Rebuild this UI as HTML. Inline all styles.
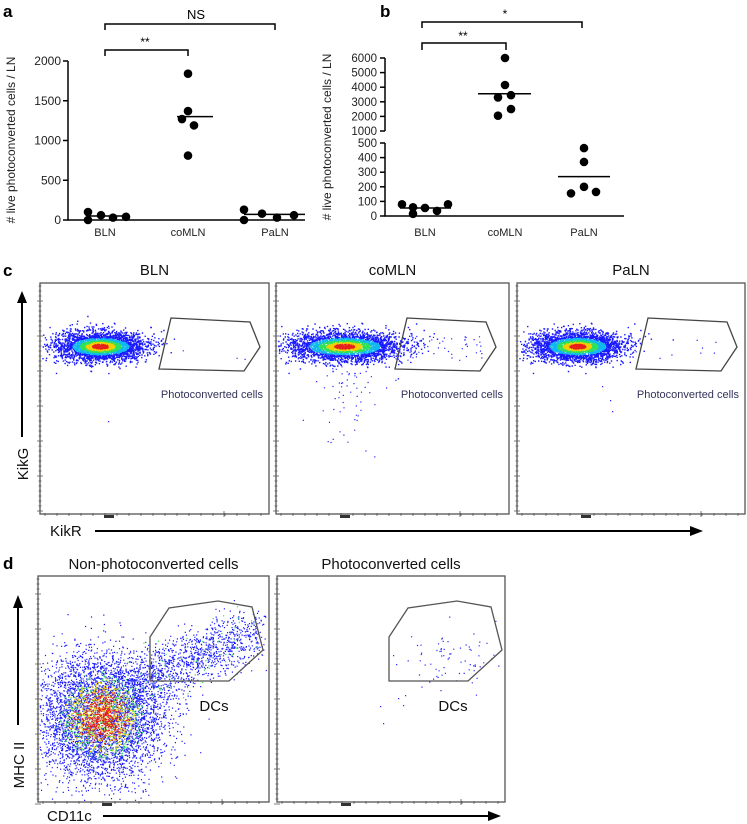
<!DOCTYPE html>
<html><head><meta charset="utf-8">
<style>
html,body{margin:0;padding:0;background:#fff;}
svg{display:block;font-family:"Liberation Sans",sans-serif;}
</style></head>
<body>
<svg id="fig" width="747" height="824" viewBox="0 0 747 824">
<g id="pa"></g>
<g id="pb"></g>
<g id="pc"></g>
<g id="pd"></g>
</svg>
<script>
// ---- Panel a data ----
const aCategories = ["BLN","coMLN","PaLN"];
const aBLN = [100,0,60,30,40];
const aCoMLN = [1840,1370,1270,1190,810];
const aPaLN = [130,0,80,30,60];
const aMeans = [50,1300,70];
const aTicks = [0,500,1000,1500,2000];
// ---- Panel b data ----
const bCategories = ["BLN","coMLN","PaLN"];
const bBLN = [80,15,60,55,35,80];
const bCoMLN = [6000,4150,3300,3450,2500,2050];
const bPaLN = [465,370,200,155,165];
const bMeans = [55,3550,270];
const bTicksUpper = [1000,2000,3000,4000,5000,6000];
const bTicksLower = [0,100,200,300,400,500];

const NS="http://www.w3.org/2000/svg";
function mk(parent,tag,attrs,text){const e=document.createElementNS(NS,tag);for(const k in attrs)e.setAttribute(k,attrs[k]);if(text!==undefined)e.textContent=text;parent.appendChild(e);return e;}

// ===== Panel a =====
(function(){
const g=document.getElementById('pa');
const y=v=>220-(v/2000)*159;
const xc=[105,188,275];
const t=mk(g,'text',{x:3,y:17,'font-size':17,'font-weight':'bold'},'a');

let ax=mk(g,'path',{d:'M68,61 V220 H305',stroke:'#000','stroke-width':1.5,fill:'none'});

aTicks.forEach(v=>{
  const tk=mk(g,'line',{x1:63,x2:68,y1:y(v),y2:y(v),stroke:'#000','stroke-width':1.5});
  
  const tl=mk(g,'text',{x:61,y:y(v)+4,'font-size':12,'text-anchor':'end',fill:'#222'},v);
  
});
aCategories.forEach((c,i)=>{
  const tl=mk(g,'text',{x:xc[i],y:236,'font-size':11,'text-anchor':'middle',fill:'#222'},c);
  
});
const yt=mk(g,'text',{x:0,y:0,'font-size':12,'text-anchor':'middle',fill:'#222',transform:'translate(15,140) rotate(-90)'},'# live photoconverted cells / LN');

const series=[aBLN,aCoMLN,aPaLN];
const offs=[[-17,-17,-4,8,21],[0,0,-6,6,0],[-31,-31,-13,2,19]];
series.forEach((s,i)=>{
  s.forEach((v,j)=>{
    const d=mk(g,'circle',{cx:xc[i]+offs[i][j],cy:y(v),r:4.3,fill:'#000'});
    
  });
});
const mw=[[88,126],[177,213],[244,305]];
aMeans.forEach((m,i)=>{
  const l=mk(g,'line',{x1:mw[i][0],x2:mw[i][1],y1:y(m),y2:y(m),stroke:'#000','stroke-width':1.5});
  
});
let b1=mk(g,'path',{d:'M105,30 V24 H275 V30',stroke:'#000','stroke-width':1.5,fill:'none'});

let s1=mk(g,'text',{x:196,y:19,'font-size':13,'text-anchor':'middle'},'NS');

let b2=mk(g,'path',{d:'M105,56 V50 H188 V56',stroke:'#000','stroke-width':1.5,fill:'none'});

let s2=mk(g,'text',{x:145,y:46,'font-size':12,'text-anchor':'middle'},'**');

})();

// ===== Panel b =====
(function(){
const g=document.getElementById('pb');
const y=v=> v<=500 ? 216-(v/500)*73 : 131-((v-1000)/5000)*73;
const xc=[425,505,584];
const t=mk(g,'text',{x:380,y:17,'font-size':17,'font-weight':'bold'},'b');

let ax=mk(g,'path',{d:'M385,58 V131 M385,143 V216 H624',stroke:'#000','stroke-width':1.5,fill:'none'});

bTicksUpper.concat(bTicksLower).forEach(v=>{
  const tk=mk(g,'line',{x1:380,x2:385,y1:y(v),y2:y(v),stroke:'#000','stroke-width':1.5});
  
  const tl=mk(g,'text',{x:377,y:y(v)+4,'font-size':11.5,'text-anchor':'end',fill:'#222'},v);
  
});
bCategories.forEach((c,i)=>{
  const tl=mk(g,'text',{x:xc[i],y:236,'font-size':11,'text-anchor':'middle',fill:'#222'},c);
  
});
const yt=mk(g,'text',{x:0,y:0,'font-size':12,'text-anchor':'middle',fill:'#222',transform:'translate(331,137) rotate(-90)'},'# live photoconverted cells / LN');

const series=[bBLN,bCoMLN,bPaLN];
const offs=[[-23,-12,-12,0,12,23],[0,0,-7,6,6,-7],[0,0,0,-13,12]];
series.forEach((s,i)=>{
  s.forEach((v,j)=>{
    const d=mk(g,'circle',{cx:xc[i]+offs[i][j],cy:y(v),r:4.3,fill:'#000'});
    
  });
});
const mw=[[400,451],[478,531],[558,610]];
bMeans.forEach((m,i)=>{
  const l=mk(g,'line',{x1:mw[i][0],x2:mw[i][1],y1:y(m),y2:y(m),stroke:'#000','stroke-width':1.5});
  
});
let b1=mk(g,'path',{d:'M422,28 V22 H582 V28',stroke:'#000','stroke-width':1.5,fill:'none'});

let s1=mk(g,'text',{x:505,y:18,'font-size':12,'text-anchor':'middle'},'*');

let b2=mk(g,'path',{d:'M422,50 V43 H506 V50',stroke:'#000','stroke-width':1.5,fill:'none'});

let s2=mk(g,'text',{x:463,y:40,'font-size':12,'text-anchor':'middle'},'**');

})();

// deterministic pseudo-random for flow cytometry density texture
let seed=12345;
function rnd(){seed=(seed*1103515245+12345)%2147483648;return seed/2147483648;}
function gauss(){let u=rnd()||1e-6,v=rnd();return Math.sqrt(-2*Math.log(u))*Math.cos(2*Math.PI*v);}
function colorFor(d){ if(d<0.25)return '#e8201a'; if(d<0.45)return '#f5e000'; if(d<0.62)return '#2ee05a'; if(d<0.8)return '#10b8f0'; return '#1a1aff';}

function frame(g,x0,y0,w,h,name){
  const r=mk(g,'rect',{x:x0,y:y0,width:w,height:h,fill:'none',stroke:'#555','stroke-width':1.3});
  
  let p='';
  for(let k=0;k<=6;k++){const yy=y0+18+k*35;p+=`M${x0-3},${yy}H${x0+3}`;}
  for(let yy=y0+3;yy<y0+h;yy+=5)p+=`M${x0-1.5},${yy}H${x0+1.5}`;
  for(let xx=x0+5;xx<x0+w;xx+=12)p+=`M${xx},${y0+h-1}V${y0+h+2}`;
  p+=`M${x0+184},${y0+h-3}V${y0+h+3}`;
  const tk=mk(g,'path',{d:p,stroke:'#555','stroke-width':0.8,fill:'none'});
  
  const m=mk(g,'rect',{x:x0+64,y:y0+h+1,width:10,height:3,fill:'#333'});
  
}

// ===== Panel c =====
(function(){
const g=document.getElementById('pc');
const t=mk(g,'text',{x:3,y:276,'font-size':17,'font-weight':'bold'},'c');

const frames=[[40,229,'BLN',110,62,0.4,3],[276,233,'coMLN',118,78,1.6,55],[517,228,'PaLN',106,62,1.0,8]];
frames.forEach((f,fi)=>{
  const x0=f[0],w=f[1],y0=283,h=231;
  const tt=mk(g,'text',{x:x0+w/2,y:275,'font-size':15,'text-anchor':'middle',fill:'#111'},f[2]);
  
  const cy=346;
  const dots=mk(g,'g',{});
  
  let pts=[];
  for(let i=0;i<3000;i++){
    const gx=gauss(),gy=gauss();
    const px=x0+60+gx*f[4]*0.36+(fi===1?8:0), py=cy+gy*7.5;
    if(px<x0+2)continue;
    pts.push([px,py,Math.sqrt(gx*gx+gy*gy*1.3)/2.3]);
  }
  pts.sort((a,b)=>b[2]-a[2]);
  const byc={};
  pts.forEach(p=>{const dd=p[2]; const c= dd<0.16?'#e8201a':dd<0.28?'#f0d000':dd<0.4?'#2ee05a':dd<0.55?'#10b8f0':'#1a1aff';(byc[c]=byc[c]||[]).push(p);});
  for(const c in byc){let d='';byc[c].forEach(p=>{d+=`M${p[0].toFixed(1)},${p[1].toFixed(1)}h1.4v1.4h-1.4z`;});mk(dots,'path',{d:d,fill:c});}
  let d2='';
  for(let i=0;i<f[6];i++){const px=x0+118+rnd()*90, py=cy-12+rnd()*26;d2+=`M${px.toFixed(1)},${py.toFixed(1)}h1.2v1.2h-1.2z`;}
  if(fi===1){for(let i=0;i<60;i++){const px=x0+70+gauss()*18, py=cy+20+Math.abs(gauss())*40;d2+=`M${px.toFixed(1)},${py.toFixed(1)}h1.2v1.2h-1.2z`;}}
  if(fi===2){[[x0+85,386],[x0+93,400],[x0+95,411]].forEach(p=>{d2+=`M${p[0]},${p[1]}h1.2v1.2h-1.2z`;});}
  if(fi===0){d2+=`M${x0+68},421h1.2v1.2h-1.2z`;}
  mk(dots,'path',{d:d2,fill:'#2a2aff'});
  frame(g,x0,y0,w,h,'c-plot-frame-'+f[2]);
  const gx0=x0+131;
  const gate=mk(g,'polygon',{points:`${gx0},318 ${gx0+79},322 ${gx0+89},347 ${gx0+73},371 ${gx0-12},369`,fill:'none',stroke:'#444','stroke-width':1.3});
  
  const gl=mk(g,'text',{x:x0+w-6,y:398,'font-size':11,'text-anchor':'end',fill:'#33335a'},'Photoconverted cells');
  
});
const ya=mk(g,'path',{d:'M22,437 V302',stroke:'#000','stroke-width':2,fill:'none'});

const yh=mk(g,'polygon',{points:'17,303 27,303 22,291',fill:'#000'});

const yl=mk(g,'text',{x:0,y:0,'font-size':15,'text-anchor':'middle',fill:'#111',transform:'translate(28,464) rotate(-90)'},'KikG');

const xl=mk(g,'text',{x:50,y:536,'font-size':15,fill:'#111'},'KikR');

const xa=mk(g,'path',{d:'M95,531 H692',stroke:'#000','stroke-width':2,fill:'none'});

const xh=mk(g,'polygon',{points:'690,526 690,536 703,531',fill:'#000'});

})();

// ===== Panel d =====
(function(){
const g=document.getElementById('pd');
const t=mk(g,'text',{x:3,y:569,'font-size':17,'font-weight':'bold'},'d');

const frames=[[38,231,'Non-photoconverted cells'],[277,228,'Photoconverted cells']];
frames.forEach((f,fi)=>{
  const x0=f[0],w=f[1],y0=576,h=226;
  const tt=mk(g,'text',{x:x0+w/2,y:569,'font-size':15,'text-anchor':'middle',fill:'#111'},f[2]);
  
  const dots=mk(g,'g',{});
  
  const byc={};
  function add(px,py,c){if(px<x0+1||px>x0+w-2||py<y0+1||py>y0+h-2)return;(byc[c]=byc[c]||[]).push([px,py]);}
  if(fi===0){
    for(let i=0;i<5500;i++){
      const gx=gauss(),gy=gauss();
      const px=x0+63+gx*30, py=716+gy*30;
      const d=Math.sqrt(gx*gx+gy*gy)/2.2+(rnd()-0.5)*0.7;
      const c= d<0.12?'#e8201a':d<0.25?'#f0d000':d<0.36?'#2ee05a':'#1a1aff';
      add(px,py,c);
    }
    for(let i=0;i<1200;i++){
      const tt2=rnd(), gx=gauss()*15, gy=gauss()*13;
      const px=x0+95+tt2*120+gx, py=688-tt2*58+gy;
      add(px,py,rnd()<0.05?'#2ee05a':'#1a1aff');
    }
  } else {
    for(let i=0;i<70;i++){
      const tt2=rnd();
      add(x0+150+tt2*60+gauss()*12, 665-tt2*20+gauss()*13,'#2a2aff');
    }
    [[x0+116,655],[x0+119,664],[x0+121,698],[x0+126,705],[x0+128,695],[x0+103,706],[x0+106,723]].forEach(p=>add(p[0],p[1],'#2a2aff'));
  }
  const sz=fi===0?1.2:1.2;
  const order=['#1a1aff','#2a2aff','#2ee05a','#f0d000','#e8201a'];
  order.forEach(c=>{ if(!byc[c])return; let d='';byc[c].forEach(p=>{d+=`M${p[0].toFixed(1)},${p[1].toFixed(1)}h${sz}v${sz}h-${sz}z`;});mk(dots,'path',{d:d,fill:c});});
  frame(g,x0,y0,w,h,'d-plot-frame');
  const o=x0-38;
  const gate=mk(g,'polygon',{points:`${150+o},637 ${169+o},608 ${218+o},601 ${252+o},607 ${263+o},650 ${229+o},681 ${150+o},681`,fill:'none',stroke:'#555','stroke-width':1.3});
  
  const gl=mk(g,'text',{x:214+o,y:711,'font-size':15,'text-anchor':'middle',fill:'#111'},'DCs');
  
});
const ya=mk(g,'path',{d:'M18,725 V607',stroke:'#000','stroke-width':2,fill:'none'});

const yh=mk(g,'polygon',{points:'13,608 23,608 18,595',fill:'#000'});

const yl=mk(g,'text',{x:0,y:0,'font-size':15,'text-anchor':'middle',fill:'#111',transform:'translate(24,765) rotate(-90)'},'MHC II');

const xl=mk(g,'text',{x:47,y:821,'font-size':15,fill:'#111'},'CD11c');

const xa=mk(g,'path',{d:'M103,816 H490',stroke:'#000','stroke-width':2,fill:'none'});

const xh=mk(g,'polygon',{points:'488,811 488,821 501,816',fill:'#000'});

})();
</script>
</body></html>
